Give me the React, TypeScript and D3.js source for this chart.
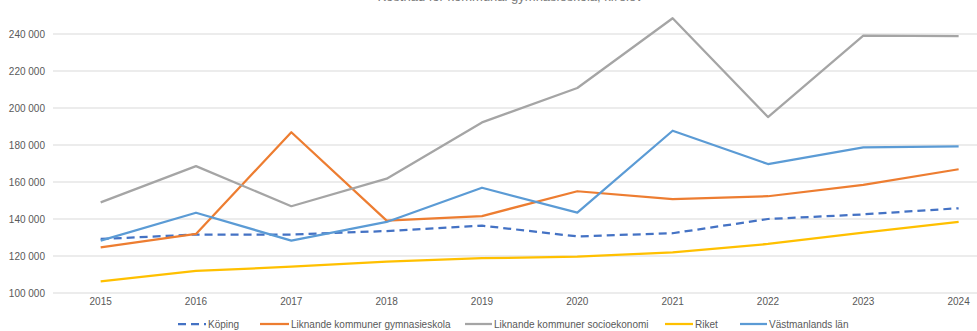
import React from "react";
import * as d3 from "d3";

const years = ["2015", "2016", "2017", "2018", "2019", "2020", "2021", "2022", "2023", "2024"];
const koping = [129200, 131600, 131600, 133500, 136400, 130600, 132300, 140000, 142500, 145800];
const liknandeGymnasieskola = [124700, 131900, 186900, 139100, 141600, 155000, 150800, 152300, 158400, 166900];
const liknandeSocioekonomi = [149000, 168600, 146900, 161800, 192200, 210800, 248500, 195100, 239100, 238900];
const riket = [106300, 111900, 114200, 116900, 118800, 119600, 122000, 126500, 132600, 138400];
const vastmanland = [128300, 143400, 128300, 138400, 156900, 143400, 187700, 169700, 178700, 179300];
const yTicks = [100000, 120000, 140000, 160000, 180000, 200000, 220000, 240000];
const title = "Kostnad för kommunal gymnasieskola, kr/elev";

const series = [
  { name: "Köping", values: koping, color: "#4472C4", dash: "8,5" },
  { name: "Liknande kommuner gymnasieskola", values: liknandeGymnasieskola, color: "#ED7D31", dash: "" },
  { name: "Liknande kommuner socioekonomi", values: liknandeSocioekonomi, color: "#A5A5A5", dash: "" },
  { name: "Riket", values: riket, color: "#FFC000", dash: "" },
  { name: "Västmanlands län", values: vastmanland, color: "#5B9BD5", dash: "" },
];

const legendPos = [
  { x1: 178, text: 208 },
  { x1: 260, text: 291 },
  { x1: 465, text: 494 },
  { x1: 665, text: 695 },
  { x1: 740, text: 769 },
];

export default function App() {
  const W = 977;
  const H = 331;
  const left = 53;
  const step = 95.33;
  const x = d3.scalePoint<string>().domain(years).range([left, left + step * years.length]).padding(0.5);
  const y = d3.scaleLinear().domain([100000, 240000]).range([293, 34]);
  const fmt = (v: number) => d3.format(",")(v).replace(/,/g, " ");
  const line = d3
    .line<number>()
    .x((_, i) => x(years[i]) as number)
    .y((d) => y(d));
  const font = "'Liberation Sans', Arial, sans-serif";

  return (
    <svg width={W} height={H} style={{ position: "absolute", left: 0, top: 0, display: "block", background: "#fff" }} fontFamily={font}>
      <text x={510} y={1} textAnchor="middle" fontSize={13} fill="#7a7a7a">{title}</text>
      {yTicks.map((t) => (
        <g key={t}>
          <line x1={left} x2={W} y1={y(t)} y2={y(t)} stroke="#d9d9d9" strokeWidth={1} />
          <text x={45} y={y(t)} dy="0.35em" textAnchor="end" fontSize={10} fill="#595959">{fmt(t)}</text>
        </g>
      ))}
      {years.map((yr) => (
        <text key={yr} x={x(yr) as number} y={305} textAnchor="middle" fontSize={10} fill="#595959">{yr}</text>
      ))}
      {series.map((s) => (
        <path key={s.name} d={line(s.values) || ""} fill="none" stroke={s.color} strokeWidth={2.25} strokeDasharray={s.dash || undefined} strokeLinejoin="round" />
      ))}
      {series.map((s, i) => (
        <g key={"lg" + s.name}>
          <line x1={legendPos[i].x1} x2={legendPos[i].text - 2} y1={324} y2={324} stroke={s.color} strokeWidth={2.25} strokeDasharray={s.dash || undefined} />
          <text x={legendPos[i].text} y={324} dy="0.35em" fontSize={10} fill="#595959">{s.name}</text>
        </g>
      ))}
    </svg>
  );
}
